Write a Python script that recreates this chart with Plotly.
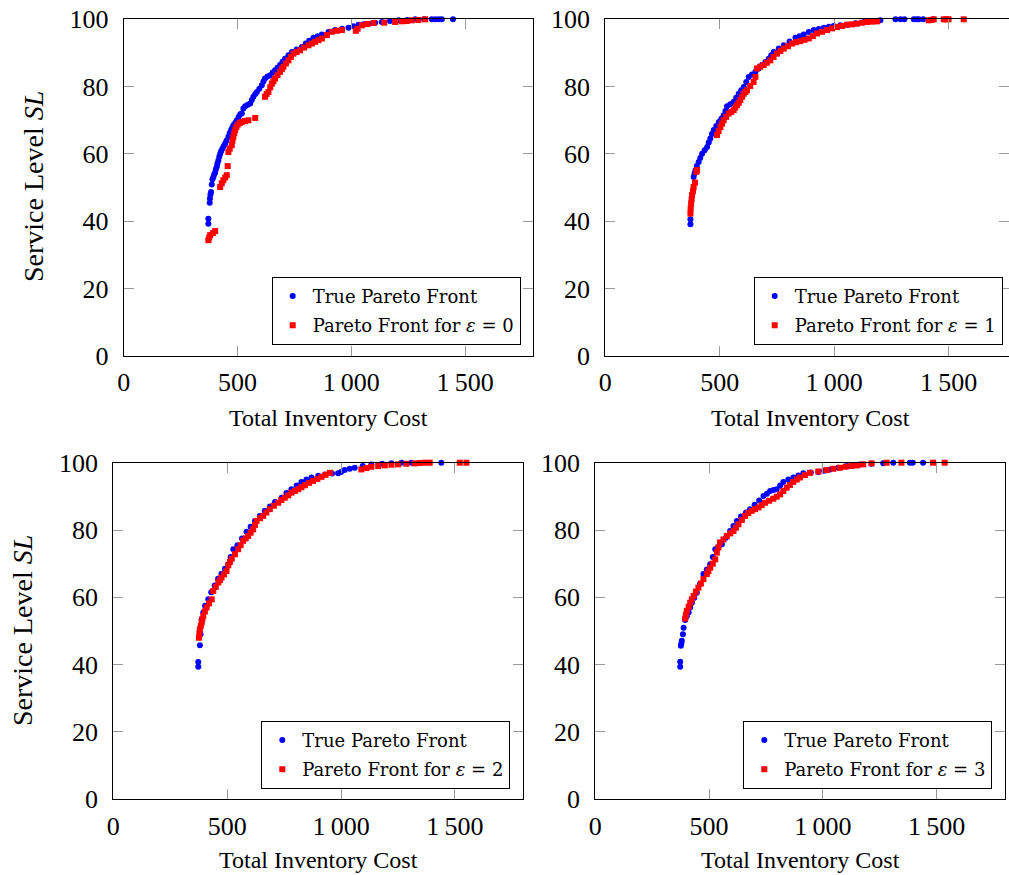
import plotly.graph_objects as go

# ---------------- data ----------------
true_x_0 = [372,372,378,379,381,384,387,390,394,398,402,405,409,412,416,420,424,428,434,440,446,452,460,466,472,477,482,490,497,505,512,519,526,534,545,556,563,570,578,585,596,607,614,621,632,644,655,665,676,687,698,709,724,739,760,783,800,815,834,852,871,900,929,960,988,1010,1032,1055,1076,1105,1134,1170,1208,1245,1281,1320,1354,1370,1385,1398,1447]
true_y_0 = [39.3,40.8,45.5,46.8,48,48.7,50.9,52.5,53.2,54,54.5,55.5,56.2,57.2,58.1,59.2,60.1,60.8,61.6,62.4,63.1,64,65.1,66.2,67.1,67.8,68.5,69.2,70,71,71.8,72,73.5,74.2,74.6,75,76,77,77.8,78.4,79.4,80.4,81.5,82.4,83,83.4,84.2,84.9,85.6,86.4,87.4,88.3,89.3,90.3,91,91.8,92.8,93.6,94.5,95,95.5,96.2,96.8,97.2,97.5,97.9,98.4,98.5,98.7,99,99.2,99.5,99.7,99.8,100,100,100,100,100,100,100]
eps0_x = [372,376,380,392,402,424,431,438,446,453,457,460,466,475,478,482,486,490,495,501,510,519,533,548,578,621,628,636,644,651,658,665,676,687,695,702,713,724,735,746,760,775,793,812,827,841,856,871,893,915,937,959,1020,1028,1047,1070,1098,1145,1193,1222,1244,1266,1295,1325]
eps0_y = [34.4,35.2,35.9,36.5,37.1,50.2,51.3,52.2,53,53.7,56.4,60.6,61.6,62.6,64,65.1,66.2,67.1,68,68.7,69.2,69.5,69.8,70,70.7,77,77.8,78.4,79.8,80.9,81.6,82.4,83.4,84.4,85.2,85.9,86.9,87.8,88.8,89.8,90.3,90.8,91.6,92.3,92.8,93.3,93.8,94.3,95.3,96.3,96.6,96.8,96.6,97.2,98.2,98.6,98.9,99,99.2,99.4,99.5,99.7,99.8,100]

true_x_1 = [372,372,380,386,390,394,400,408,415,423,434,445,452,459,466,474,485,496,507,517,525,532,546,561,572,583,594,605,616,627,641,656,670,685,700,714,725,736,758,780,805,831,849,867,889,911,933,955,977,998,1027,1057,1093,1129,1165,1202,1268,1290,1307,1348,1360,1370,1389,1432]
true_y_1 = [39.1,40.6,48,53.2,54.2,55.2,56.4,57.6,58.8,60.1,61.1,62.1,63.4,64.6,65.9,67.1,68.3,69.5,70.5,71.5,72.8,74.2,74.8,75.5,76.7,77.9,78.9,79.9,81.4,82.9,83.6,84.4,85.4,86.4,87.3,88.3,89.3,90.3,91.3,92.3,93.4,94.5,95,95.5,96.2,96.8,97.1,97.5,97.8,98,98.2,98.4,98.8,99.2,99.5,99.7,100,100,100,100,100,100,100,100]
eps1_x = [372,373,375,377,379,383,386,392,398,401,488,495,503,510,517,528,539,550,561,568,576,583,590,598,605,612,619,633,648,656,663,677,692,706,721,735,750,765,780,798,816,834,852,870,889,907,925,947,969,991,1013,1035,1056,1078,1100,1122,1144,1166,1188,1413,1425,1435,1479,1490,1500,1566]
eps1_y = [42.3,43.8,45.3,46.5,47.8,49,50.2,51.5,54.7,55.2,65.6,66.8,68,69,70,71,72,72.5,73,73.8,74.5,75.2,76,77,77.9,78.4,78.9,80.2,81.4,82.9,85.4,85.9,86.4,87.1,87.8,88.8,89.8,90.6,91.3,92,92.8,93.2,93.5,93.9,94.3,95,95.8,96.3,96.8,97.3,97.7,98,98.4,98.5,98.7,99,99.2,99.3,99.4,99.7,99.8,100,100,100,100,100]

true_x_2 = [373,373,380,383,388,395,403,417,430,445,460,475,490,505,515,527,545,565,585,603,622,643,665,688,710,739,760,782,805,826,848,870,900,930,960,987,1000,1016,1038,1060,1095,1133,1180,1221,1265,1309,1440]
true_y_2 = [39.4,40.8,45.8,49,53.5,55.5,57.5,59.4,61.5,63.5,65.5,67,68.5,69.8,72,74.3,75.5,77.5,79.5,81,82.7,84.2,85.7,87,88.3,89.6,91,92.1,93.2,94.3,95,95.6,96.1,96.5,96.8,96.9,97.2,97.8,98.2,98.5,99,99.5,99.7,99.8,100,100,100]
eps2_x = [376,378,380,384,388,391,395,402,410,420,432,439,450,461,468,475,486,497,505,512,520,534,548,559,570,581,592,603,614,622,629,644,658,672,687,705,724,738,753,768,782,797,812,826,841,859,877,896,914,932,951,1089,1111,1133,1163,1192,1221,1250,1287,1323,1345,1367,1389,1521,1550]
eps2_y = [48,49.2,50.5,51.5,52.5,53.5,54.5,55.8,57,58.2,59.4,61.9,63.1,64.4,65.1,65.9,66.8,67.8,69.5,70.5,71.5,72.8,74.3,75.5,76.8,77.5,78.2,79.2,80.2,81.5,82.7,83.5,84.2,85.2,86.2,87.2,88.1,88.9,89.6,90.3,91.1,91.6,92.1,92.7,93.3,94,94.6,95.2,95.8,96.4,97,98,98.4,98.8,99,99.2,99.4,99.5,99.7,99.8,99.9,100,100,100,100]

true_x_3 = [373,373,376,378,380,385,388,395,402,410,417,424,435,446,460,475,490,505,516,527,541,556,574,592,607,622,640,662,680,700,720,739,754,768,783,797,812,826,848,870,892,914,947,980,1005,1031,1068,1104,1133,1162,1213,1265,1309,1382,1395,1440]
true_y_3 = [39.4,40.9,45.6,46.3,47.1,49,51,53.3,54.4,55.5,57,58.4,59.9,61.4,64,66.9,68.3,69.8,72,74.3,75,75.8,77.7,79.7,81.2,82.7,84,85.2,86.2,87.5,88.8,90.1,90.8,91.6,91.9,92.1,93.2,94.3,95,95.6,96.2,96.9,97.1,97.2,97.6,98,98.5,99,99.2,99.5,99.7,99.8,100,100,100,100]
eps3_x = [395,398,402,410,417,424,432,442,453,464,475,490,497,505,516,527,534,541,548,563,578,593,607,618,629,644,658,672,687,702,717,731,746,764,782,797,812,826,841,855,870,885,899,921,943,980,1016,1046,1075,1100,1126,1151,1177,1214,1280,1345,1484,1535]
eps3_y = [53.7,54.8,56,57.2,58.4,59.4,60.4,61.7,62.9,64.1,65.4,66.9,67.8,68.8,70,71.3,73.3,74.8,76.3,77.2,78.2,79,79.7,80.7,81.7,83,84.2,85,85.7,86.2,86.7,87.4,88.1,88.7,89.3,89.9,90.6,91.6,92.6,93.4,94.3,95,95.6,96.3,97,97.4,97.8,98.2,98.5,98.8,99,99.2,99.5,99.8,100,100,100,100]

x_tick_vals = [0, 500, 1000, 1500]
x_tick_text = ["0", "500", "1\u2009000", "1\u2009500"]
y_tick_vals = [0, 20, 40, 60, 80, 100]
eps_labels = ["0", "1", "2", "3"]

panels = [
    (true_x_0, true_y_0, eps0_x, eps0_y),
    (true_x_1, true_y_1, eps1_x, eps1_y),
    (true_x_2, true_y_2, eps2_x, eps2_y),
    (true_x_3, true_y_3, eps3_x, eps3_y),
]

# ---------------- layout geometry (pixels) ----------------
W, H = 1009, 875
# (left, right, top, bottom, xmax)
boxes = [
    (123.7, 533.3, 19.3, 356.0, 1800),
    (605.3, 1009.0, 19.3, 356.0, 1764),
    (113.3, 523.3, 462.7, 799.3, 1800),
    (595.3, 1005.0, 462.7, 799.3, 1800),
]
legend_pos = [  # right edge px, bottom edge px
    (520.7, 344.7),
    (1002.7, 344.7),
    (510.3, 788.7),
    (992.3, 788.7),
]
xtitle_pos = [(328, 418), (810, 418), (318, 860), (800, 860)]
ytitle_pos = [(33, 187), (22, 631)]

TICK_FONT = dict(family="Liberation Serif, Times New Roman, serif", size=26, color="black")
AX_FONT = dict(family="Liberation Serif, Times New Roman, serif", size=24, color="black")
YT_FONT = dict(family="Liberation Serif, Times New Roman, serif", size=28, color="black")
LEG_FONT = dict(family="DejaVu Serif, serif", size=18, color="black")

fig = go.Figure()
layout = dict(
    width=W, height=H,
    margin=dict(l=0, r=0, t=0, b=0, autoexpand=False),
    paper_bgcolor="white", plot_bgcolor="white",
    showlegend=True,
    annotations=[],
)

for i, (tx, ty, ex, ey) in enumerate(panels):
    n = "" if i == 0 else str(i + 1)
    leg = "legend" + n
    fig.add_trace(go.Scatter(
        x=tx, y=ty, mode="markers", name="True Pareto Front",
        marker=dict(symbol="circle", size=6, color="#0000ff"),
        xaxis="x" + n, yaxis="y" + n, legend=leg, legendgroup="t%d" % i,
        cliponaxis=False,
    ))
    fig.add_trace(go.Scatter(
        x=ex, y=ey, mode="markers",
        name="Pareto Front for <i>\u03b5</i> = " + eps_labels[i],
        marker=dict(symbol="square", size=6, color="#ff0000"),
        xaxis="x" + n, yaxis="y" + n, legend=leg, legendgroup="e%d" % i,
        cliponaxis=False,
    ))
    l, r, t, b, xmax = boxes[i]
    common = dict(
        ticks="inside", ticklen=10, tickwidth=1, tickcolor="#9a9a9a",
        showline=True, linecolor="black", linewidth=1, mirror="ticks",
        showgrid=False, zeroline=False, tickfont=TICK_FONT, automargin=False,
    )
    layout["xaxis" + n] = dict(
        domain=[l / W, r / W], range=[0, xmax], anchor="y" + n,
        tickvals=x_tick_vals, ticktext=x_tick_text, ticklabelstandoff=3, **common)
    layout["yaxis" + n] = dict(
        domain=[1 - b / H, 1 - t / H], range=[0, 100], anchor="x" + n,
        tickvals=y_tick_vals, ticklabelstandoff=9, **common)
    rx, by = legend_pos[i]
    layout[leg] = dict(
        x=rx / W, y=1 - by / H, xanchor="right", yanchor="bottom",
        xref="paper", yref="paper",
        bgcolor="white", bordercolor="black", borderwidth=1,
        font=LEG_FONT, itemwidth=30, tracegroupgap=3,
        traceorder="grouped",
    )
    cx, cy = xtitle_pos[i]
    layout["annotations"].append(dict(
        text="Total Inventory Cost", x=cx / W, y=1 - cy / H,
        xref="paper", yref="paper", showarrow=False,
        xanchor="center", yanchor="middle", font=AX_FONT))

for (cx, cy) in ytitle_pos:
    layout["annotations"].append(dict(
        text="Service Level <i>SL</i>", x=cx / W, y=1 - cy / H,
        xref="paper", yref="paper", showarrow=False, textangle=-90,
        xanchor="center", yanchor="middle", font=YT_FONT))

fig.update_layout(**layout)
fig.write_html("out.html")
